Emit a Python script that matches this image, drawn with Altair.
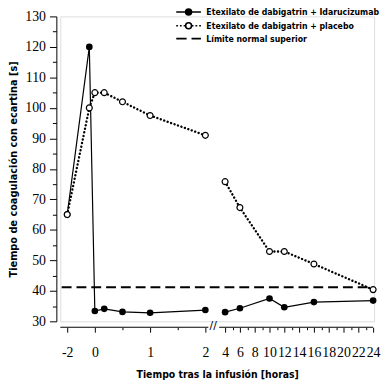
import altair as alt
import pandas as pd

# ---- data ----
hours = [-2, -0.4, 0, 0.17, 0.5, 1, 2, 4, 6, 10, 12, 16, 24]
ida_values = [65, 120, 33.4, 34.1, 33.1, 32.8, 33.7, 33.0, 34.3, 37.5, 34.6, 36.3, 36.8]
placebo_values = [65, 100, 105, 105, 102, 97.5, 91, 75.8, 67.3, 52.9, 52.9, 48.8, 40.4]
limit_value = 41.2
limit_span = [-2.4, 24]
series_names = [
    "Etexilato de dabigatrin + Idarucizumab",
    "Etexilato de dabigatrin + placebo",
    "Límite normal superior",
]
y_ticks = list(range(30, 131, 5))
x_major = [-2, 0, 1, 2] + list(range(4, 25, 2))
x_minor = [0.5, 1.5] + list(range(5, 24, 2))
axis_segments = [(-2.5, 2.3), (3.4, 24)]
break_at = 2.8

# ---- broken-axis transform (hours -> axis position) ----
def pos(h):
    if h < 0:
        return 14 * h
    if h <= 2:
        return 56 * h
    if h < 4:
        return 112 + 10 * (h - 2)
    return 132 + 7.5 * (h - 4)

def pos_expr(f):
    d = f"datum.{f}"
    return (f"{d} < 0 ? 14*{d} : {d} <= 2 ? 56*{d} : {d} < 4 ? 112 + 10*({d}-2) : 132 + 7.5*({d}-4)")

W, H = 318, 309
FONT_SANS = "DejaVu Sans Condensed"
FONT_SERIF = "Liberation Serif"

rows = []
for t, v in zip(hours, ida_values):
    rows.append({"t": t, "v": v, "serie": series_names[0], "seg": "a" if t <= 2 else "b"})
for t, v in zip(hours, placebo_values):
    rows.append({"t": t, "v": v, "serie": series_names[1], "seg": "a" if t <= 2 else "b"})
df = pd.DataFrame(rows)

tick_vals = sorted(pos(h) for h in x_major + x_minor)
major_test = ("datum.value < 0 || (datum.value <= 112 && datum.value % 56 == 0) || "
              "(datum.value > 112 && round((datum.value-132)/7.5) % 2 == 0)")
x_label_expr = ("datum.value < 0 ? '-' + format(abs(datum.value)/14, 'd') : datum.value <= 112 ? "
                "(datum.value % 56 == 0 ? format(datum.value/56, 'd') : '') : "
                "(round((datum.value-132)/7.5) % 2 == 0 ? format(round((datum.value-132)/7.5) + 4, 'd') : '')")

x_axis = alt.Axis(
    values=tick_vals, labelExpr=x_label_expr, domain=False, grid=False, offset=6,
    tickSize={"condition": {"test": major_test, "value": 5}, "value": 2.5},
    tickColor="black", labelColor="black", labelFont=FONT_SERIF, labelFontSize=14,
    labelPadding=14, labelFlush=False, labelOverlap=False,
    title="Tiempo tras la infusión [horas]", titleFont=FONT_SANS, titleFontSize=10.5,
    titleFontWeight="bold", titleColor="black", titlePadding=10,
)
y_axis = alt.Axis(
    values=y_ticks, labelExpr="datum.value % 10 == 0 ? datum.label : ''", grid=False,
    offset=4, domainColor="black", tickColor="black",
    tickSize={"condition": {"test": "datum.value % 10 == 0", "value": 7}, "value": 4},
    labelColor="black", labelFont=FONT_SERIF, labelFontSize=14, labelPadding=4,
    title="Tiempo de coagulación con ecartina [s]", titleFont=FONT_SANS,
    titleFontSize=11, titleFontWeight="bold", titleColor="black", titlePadding=6,
)
x_scale = alt.Scale(domain=[-35, 283], nice=False, zero=False)
y_scale = alt.Scale(domain=[30, 130], nice=False, zero=False)
x_enc = alt.X("pos:Q", scale=x_scale, axis=x_axis)
y_enc = alt.Y("v:Q", scale=y_scale, axis=y_axis)

base = alt.Chart(df).transform_calculate(pos=pos_expr("t"))

line_ida = base.transform_filter(f"datum.serie == '{series_names[0]}'").mark_line(
    color="black", strokeWidth=1.2).encode(x=x_enc, y=y_enc, detail="seg:N")
line_pla = base.transform_filter(f"datum.serie == '{series_names[1]}'").mark_line(
    color="black", strokeWidth=2.4, strokeDash=[0.1, 3.6], strokeCap="round").encode(
    x=x_enc, y=y_enc, detail="seg:N")
pts_ida = base.transform_filter(f"datum.serie == '{series_names[0]}'").mark_point(
    shape="circle", filled=True, color="black", size=45, opacity=1).encode(x=x_enc, y=y_enc)
pts_pla = base.transform_filter(f"datum.serie == '{series_names[1]}'").mark_point(
    shape="circle", filled=True, fill="white", stroke="black", strokeWidth=1.2, size=36,
    opacity=1).encode(x=x_enc, y=y_enc)

limit_df = pd.DataFrame({"t": [limit_span[0]], "t2": [limit_span[1]], "v": [limit_value]})
limit = alt.Chart(limit_df).transform_calculate(pos=pos_expr("t"), pos2=pos_expr("t2")).mark_rule(
    color="black", strokeWidth=2, strokeDash=[10, 5]).encode(x=x_enc, x2="pos2:Q", y=y_enc)

seg_df = pd.DataFrame({"t": [s[0] for s in axis_segments], "t2": [s[1] for s in axis_segments]})
axis_line = alt.Chart(seg_df).transform_calculate(pos=pos_expr("t"), pos2=pos_expr("t2")).mark_rule(
    color="black", strokeWidth=1).encode(x=x_enc, x2="pos2:Q", y=alt.value(H + 6))

brk = alt.Chart(pd.DataFrame({"t": [break_at]})).transform_calculate(pos=pos_expr("t")).mark_text(
    text="//", font="DejaVu Sans", fontSize=11, color="black", dy=-1).encode(
    x=x_enc, y=alt.value(H + 6))

# legend (drawn by Vega-Lite from the series names)
p_ida = "M-2.5,0H-0.6M0.6,0H2.5M-0.6,0A0.6,0.6,0,1,1,0.6,0A0.6,0.6,0,1,1,-0.6,0Z"
p_pla = ("M-2.5,0H-2.15M-1.75,0H-1.4M-1.0,0H-0.65M0.65,0H1.0M1.4,0H1.75M2.15,0H2.5"
         "M-0.6,0A0.6,0.6,0,1,1,0.6,0A0.6,0.6,0,1,1,-0.6,0Z")
p_lim = "M-2.5,0H-0.4M0.6,0H2.5"
leg = alt.Legend(
    title=None, orient="none", legendX=124, legendY=-10.5, padding=0,
    symbolSize=100, symbolStrokeColor="black", symbolStrokeWidth=1.6, symbolOpacity=1,
    labelFont=FONT_SANS, labelFontSize=8.8, labelFontWeight="bold", labelColor="black",
    labelOffset=12, labelLimit=300, rowPadding=0,
)
legend_layer = alt.Chart(pd.DataFrame({"serie": series_names})).transform_filter("false").mark_point(
    filled=True, opacity=1).encode(
    shape=alt.Shape("serie:N", scale=alt.Scale(domain=series_names, range=[p_ida, p_pla, p_lim]), legend=leg),
    fill=alt.Fill("serie:N", scale=alt.Scale(domain=series_names, range=["black", "white", "black"]), legend=leg),
    stroke=alt.Stroke("serie:N", scale=alt.Scale(domain=series_names, range=["black", "black", "black"]), legend=leg),
)

chart = alt.layer(limit, line_ida, line_pla, pts_ida, pts_pla, axis_line, brk, legend_layer).properties(
    width=W, height=H,
    autosize=alt.AutoSizeParams(type="none"),
    padding={"left": 53, "top": 6, "right": 8, "bottom": 62},
).configure_view(stroke=None).configure(background="white")

chart.save("out.html", embed_options={"renderer": "svg", "actions": False})
